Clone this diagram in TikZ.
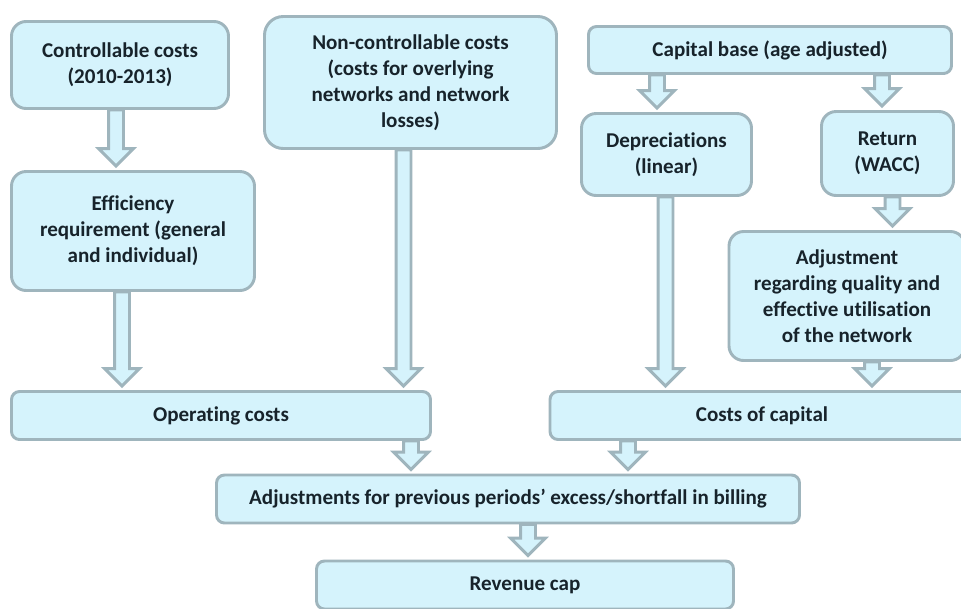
\documentclass[tikz,border=0pt]{standalone}
\usepackage{fontspec}
\setmainfont{Carlito}[Ligatures={TeX,NoCommon}]
\usepackage{tikz}
\usetikzlibrary{calc,positioning}
\definecolor{rcfill}{HTML}{D5F3FC}
\definecolor{rcline}{HTML}{9FB5BD}
\definecolor{rcink}{HTML}{17232B}
\tikzset{
  capBox/.style={draw=rcline, fill=rcfill, line width=2.2pt, rounded corners=11pt, align=center, inner sep=3pt, text=rcink, font=\bfseries\fontsize{15.8}{19.5}\selectfont},
  flatBox/.style={capBox, rounded corners=6pt},
  blockArrow/.style={draw=rcline, fill=rcfill, line width=2.2pt, line join=miter}
}
% hollow block arrow: x and top from #1, tip just above #2
\newcommand{\flowArrow}[2]{%
  \path[blockArrow] let \p1=#1, \p2=#2 in
    (\x1-5.6pt,\y1) -- (\x1+5.6pt,\y1) -- (\x1+5.6pt,\y2+16pt) -- (\x1+13pt,\y2+16pt)
    -- (\x1,\y2+3pt) -- (\x1-13pt,\y2+16pt) -- (\x1-5.6pt,\y2+16pt) -- cycle;}

\begin{document}
\begin{tikzpicture}[x=0.75pt,y=-0.75pt]
  \useasboundingbox (0,0) rectangle (961,608);
  \fill[white] (0,0) rectangle (961,608);
  \clip (0,0) rectangle (961,608);
  % top row
  \node[capBox, minimum width=162.75pt, minimum height=65.25pt] (ctrl) at (120,65) {Controllable costs\\(2010-2013)};
  \node[capBox, rounded corners=14pt, minimum width=219pt, minimum height=99pt] (nonctrl) at (410.5,82.5) {Non-controllable costs\\(costs for overlying\\networks and network\\losses)};
  \node[flatBox, minimum width=272.25pt, minimum height=35.25pt] (capbase) at (770,50) {Capital base (age adjusted)};
  \node[capBox, minimum width=127.5pt, minimum height=61.5pt] (depr) at (666.5,154.5) {Depreciations\\(linear)};
  \node[capBox, minimum width=99pt, minimum height=63pt] (ret) at (887.5,153.5) {Return\\(WACC)};
  % middle row
  \node[capBox, minimum width=182.25pt, minimum height=89.25pt] (eff) at (133,231) {Efficiency\\requirement (general\\and individual)};
  \node[capBox, minimum width=177pt, minimum height=96.75pt] (adj) at (847,296) {Adjustment\\regarding quality and\\effective utilisation\\of the network};
  % cost rows
  \node[flatBox, minimum width=314.25pt, minimum height=36pt] (ops) at (221,415.5) {Operating costs};
  \node[flatBox, minimum width=318pt, minimum height=36pt] (capcost) at (762,415.5) {Costs of capital};
  \node[flatBox, minimum width=437.25pt, minimum height=36pt] (adjust) at (508,499) {Adjustments for previous periods’ excess/shortfall in billing};
  \node[flatBox, minimum width=312.75pt, minimum height=36pt] (rev) at (525,585) {Revenue cap};
  % arrows
  \flowArrow{($(ctrl.south)+(-4,0)$)}{(eff.north)}
  \flowArrow{($(eff.south)+(-11,0)$)}{(ops.north)}
  \flowArrow{($(nonctrl.south)+(-7,0)$)}{(ops.north)}
  \flowArrow{($(capbase.south)+(-113,0)$)}{(depr.north)}
  \flowArrow{($(capbase.south)+(112,0)$)}{(ret.north)}
  \flowArrow{($(depr.south)+(-1,0)$)}{(capcost.north)}
  \flowArrow{($(ret.south)+(5,0)$)}{(adj.north)}
  \flowArrow{($(adj.south)+(25,0)$)}{(capcost.north)}
  \flowArrow{($(ops.south)+(190,0)$)}{(adjust.north)}
  \flowArrow{($(capcost.south)+(-134,0)$)}{(adjust.north)}
  \flowArrow{($(adjust.south)+(20,0)$)}{(rev.north)}
\end{tikzpicture}
\end{document}
